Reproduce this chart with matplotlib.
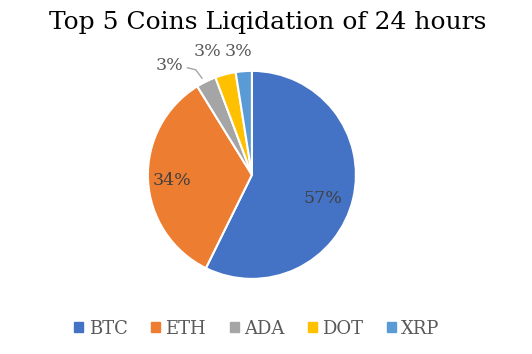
import matplotlib.pyplot as plt
import numpy as np

# Data
coins = ['BTC', 'ETH', 'ADA', 'DOT', 'XRP']
shares = [57.3, 33.9, 3.1, 3.2, 2.5]
colors = ['#4472C4', '#ED7D31', '#A5A5A5', '#FFC000', '#5B9BD5']

plt.rcParams['font.family'] = ['DejaVu Serif']
txt = '#595959'

fig = plt.figure(figsize=(5.32, 3.54), dpi=100)
ax = fig.add_axes([0.278, 0.212, 0.391, 0.588])

wedges, texts, autotexts = ax.pie(shares, colors=colors, startangle=90, counterclock=False,
                                  autopct=lambda p: '%d%%' % round(p), pctdistance=0.72,
                                  wedgeprops=dict(edgecolor='white', linewidth=1.5),
                                  textprops=dict(color='#404040', fontsize=12.5))
ax.set_xlim(-1, 1)
ax.set_ylim(-1, 1)
ax.set_aspect('equal')

# move the small labels outside
autotexts[0].set_position((0.68, -0.23))
autotexts[1].set_position((-0.77, -0.05))
outside = {2: (-0.79, 1.05), 3: (-0.43, 1.19), 4: (-0.13, 1.19)}
for i, pos in outside.items():
    autotexts[i].set_position(pos)
    autotexts[i].set_color(txt)
    autotexts[i].set_clip_on(False)
ax.plot([-0.62, -0.54, -0.48], [1.03, 1.01, 0.93], color='#A6A6A6', lw=1, clip_on=False)

fig.suptitle('Top 5 Coins Liqidation of 24 hours', x=0.503, y=0.97, fontsize=18, color='black')

handles = [plt.Rectangle((0, 0), 1, 1, color=c) for c in colors]
fig.legend(handles, coins, loc='lower center', bbox_to_anchor=(0.483, 0.0), ncol=5, frameon=False,
           handlelength=0.5, handleheight=0.5, handletextpad=0.3, columnspacing=1.3,
           prop={'size': 13}, labelcolor=txt)

fig.savefig('out.png')
